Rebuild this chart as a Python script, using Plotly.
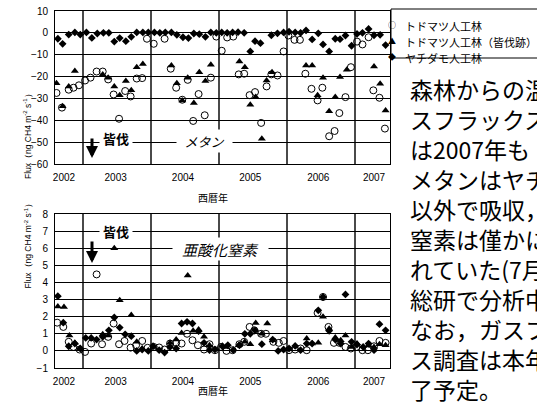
import plotly.graph_objects as go

W, H = 537, 404

# ---- メタン (CH4) flux, ng CH4 m-2 s-1 ----
ch4_todo_x = [2002.61, 2002.69, 2002.79, 2002.86, 2002.94, 2003.03, 2003.11, 2003.20, 2003.29, 2003.37,
              2003.45, 2003.53, 2003.62, 2003.70, 2003.79, 2003.87, 2003.94, 2004.04, 2004.20, 2004.29,
              2004.37, 2004.46, 2004.54, 2004.62, 2004.70, 2004.79, 2004.88, 2004.96, 2005.04, 2005.12,
              2005.21, 2005.29, 2005.37, 2005.45, 2005.53, 2005.62, 2005.70, 2005.77, 2005.86, 2005.95,
              2006.02, 2006.11, 2006.19, 2006.27, 2006.36, 2006.45, 2006.52, 2006.62, 2006.70, 2006.77,
              2006.86, 2006.94, 2007.03, 2007.11, 2007.20, 2007.27, 2007.36, 2007.44]
ch4_todo_y = [-27.5, -34.2, -26, -25.1, -24, -21.8, -20.5, -17.7, -17.7, -21.3,
              -28.2, -39.3, -26.6, -29.1, -20.9, -20.7, -2.7, -5.0, -2.7, -16.4,
              -25.1, -30.6, -21.5, -40.3, -28.0, -37.7, -20.5, -1.7, -8.2, -2.1,
              -1.7, -19.0, -18.7, -28.5, -27.1, -41.2, -24.5, -19.0, -19.5, -8.5,
              -1.2, -3.2, -3.2, -18.7, -25.6, -30.9, -25.1, -47.3, -44.9, -36.7,
              -29.4, -15.7, -4.0, -5.3, -2.0, -26.3, -29.7, -43.8]

ch4_cut_x = [2002.61, 2002.70, 2002.79, 2002.88, 2003.29, 2003.37, 2003.46, 2003.54, 2003.63, 2003.71,
             2003.79, 2003.88, 2004.30, 2004.38, 2004.46, 2004.54, 2004.63, 2004.71, 2004.80, 2004.88,
             2005.30, 2005.38, 2005.46, 2005.54, 2005.63, 2005.70, 2005.78, 2006.28, 2006.37, 2006.45,
             2006.53, 2006.62, 2006.71, 2006.78, 2006.88, 2007.28, 2007.37, 2007.45]
ch4_cut_y = [-23, -33.6, -24.5, -17.5, -19, -20.5, -24.5, -28.6, -22, -26.3,
             -15.7, -14.2, -14.9, -23, -31, -20.5, -32.1, -18, -22, -14.6,
             -13.1, -15.7, -32.9, -29.4, -48.4, -21.8, -18, -14.9, -14.9, -28.6,
             -20.5, -35.9, -29.4, -20.2, -16.9, -15.4, -23.3, -35.5]

ch4_yachi_x = [2002.63, 2002.70, 2002.79, 2002.88, 2002.96, 2003.05, 2003.13, 2003.21, 2003.30, 2003.38,
               2003.46, 2003.54, 2003.63, 2003.71, 2003.79, 2003.88, 2003.96, 2004.05, 2004.13, 2004.21,
               2004.30, 2004.38, 2004.47, 2004.55, 2004.63, 2004.71, 2004.80, 2004.88, 2004.96, 2005.04,
               2005.12, 2005.20, 2005.28, 2005.37, 2005.46, 2005.53, 2005.61, 2005.77, 2005.86, 2005.95,
               2006.03, 2006.12, 2006.20, 2006.28, 2006.37, 2006.46, 2006.53, 2006.62, 2006.71, 2006.78,
               2006.86, 2006.95, 2007.03, 2007.11, 2007.20, 2007.28, 2007.37, 2007.45]
ch4_yachi_y = [-2.7, -5.0, -0.8, 0.2, -0.8, 0.2, -2.3, -0.3, 0, 0,
               -4.0, -2.4, -3.8, -1.8, 0.2, 0.2, 0.2, 0.2, 0, 0.2,
               0.2, -0.9, -2.0, -2.4, -0.3, -0.6, -1.8, 0.2, 0, 0.2,
               0, 0.2, 0.3, 0, -8.5, -3.8, -4.7, -1.1, -0.2, 0.2,
               0.5, 0.2, 0, 1.1, -3.0, -0.2, -5.3, -8.5, -2.7, -2.9,
               -1.2, -5.9, -0.5, 0, 1.8, -1.1, -0.9, -5.6]

# ---- 亜酸化窒素 (N2O) flux ----
n2o_todo_x = [2002.62, 2002.71, 2002.79, 2002.86, 2002.95, 2003.03, 2003.12, 2003.20, 2003.28, 2003.37,
              2003.45, 2003.53, 2003.61, 2003.70, 2003.78, 2003.87, 2003.95, 2004.04, 2004.12, 2004.20,
              2004.28, 2004.37, 2004.45, 2004.53, 2004.61, 2004.69, 2004.78, 2004.86, 2004.94, 2005.03,
              2005.11, 2005.20, 2005.30, 2005.37, 2005.45, 2005.52, 2005.62, 2005.69, 2005.80, 2005.88,
              2005.95, 2006.03, 2006.12, 2006.20, 2006.29, 2006.45, 2006.53, 2006.61, 2006.69, 2006.77,
              2006.86, 2006.94, 2007.02, 2007.11, 2007.19, 2007.28, 2007.36, 2007.45]
n2o_todo_y = [1.65, 1.4, 0.53, 0.23, 0.08, -0.06, 0.43, 4.47, 0.39, 0.82,
              1.6, 0.39, 0.58, 0.19, 0.33, 0.58, 0.18, 0.23, 0.2, 0.08,
              0.43, 0.47, 0.43, 1.0, 0.62, 0.33, 0.08, 0.39, 0.04, 0.23,
              0, 0.04, 0.39, 0.53, 1.4, 1.2, 1.0, 1.0, 0.53, 0.47,
              0.58, 0.04, 0.08, 0.14, 0.04, 2.22, 3.15, 1.4, 0.47, 0.47,
              0.23, 0.14, 0.23, 0.04, 0.04, 0.27, 0.58, 0.47]

n2o_cut_x = [2002.63, 2002.72, 2002.80, 2002.88, 2002.96, 2003.29, 2003.37, 2003.46, 2003.54, 2003.62,
             2003.71, 2003.79, 2003.87, 2004.04, 2004.28, 2004.37, 2004.45, 2004.54, 2004.62, 2004.70,
             2004.78, 2004.86, 2005.10, 2005.29, 2005.38, 2005.46, 2005.54, 2005.63, 2005.71, 2005.79,
             2006.29, 2006.37, 2006.46, 2006.53, 2006.62, 2006.71, 2006.79, 2006.86, 2006.95, 2007.03,
             2007.20, 2007.28, 2007.36, 2007.45]
n2o_cut_y = [2.6, 2.57, 0.9, 0.47, 0.14, 0.97, 0.9, 6.0, 2.96, 7.0,
             2.1, 0.53, 0.14, 0.23, 0.47, 0.66, 1.05, 4.4, 1.17, 1.25,
             0.82, 0.33, 0.23, 0.33, 0.53, 0.39, 1.63, 1.0, 1.6, 0.62,
             0.72, 0.43, 0.47, 2.0, 1.3, 0.78, 0.62, 0.9, 0.23, 0.43,
             0.33, 0.23, 0.39, 0.33]

n2o_yachi_x = [2002.63, 2002.71, 2002.79, 2002.88, 2002.96, 2003.04, 2003.12, 2003.20, 2003.29, 2003.38,
               2003.46, 2003.54, 2003.62, 2003.71, 2003.79, 2003.87, 2003.96, 2004.03, 2004.12, 2004.20,
               2004.28, 2004.37, 2004.45, 2004.53, 2004.61, 2004.70, 2004.78, 2004.86, 2004.94, 2005.05,
               2005.13, 2005.21, 2005.30, 2005.38, 2005.46, 2005.53, 2005.63, 2005.79, 2005.87, 2005.95,
               2006.03, 2006.12, 2006.20, 2006.29, 2006.37, 2006.46, 2006.53, 2006.62, 2006.71, 2006.79,
               2006.86, 2006.95, 2007.03, 2007.12, 2007.20, 2007.28, 2007.36, 2007.45]
n2o_yachi_y = [3.2, 1.65, 0.27, 0.43, 0.14, 0.76, 0.76, 0.66, 0.82, 1.2,
               1.95, 1.36, 0.97, 0.86, 0, 0.08, 0, 0.27, 0.04, -0.1,
               0.23, 0.14, 1.6, 1.7, 1.6, 1.15, 0.47, 0.04, 0.08, 0.27,
               0.33, 0.04, 0.33, 1.0, 1.0, 1.2, 0.39, 0.66, 0, 0.08,
               0.14, 0.29, 0.04, 0.43, 0.43, 2.37, 3.15, 1.17, 0.66, 0.43,
               3.3, 0.53, 0.37, 0.23, 0.43, 0.04, 1.56, 1.2]

# ---- axis labels ----
year_boundaries = [2003, 2004, 2005, 2006, 2007]
year_label_pos = [2002.72, 2003.48, 2004.47, 2005.46, 2006.46, 2007.28]
year_labels = ["2002", "2003", "2004", "2005", "2006", "2007"]
ch4_ticks = [10, 0, -10, -20, -30, -40, -50, -60]
n2o_ticks = [8, 7, 6, 5, 4, 3, 2, 1, 0, -1]
x_title = "西暦年"
y_title = "Flux（ng CH4 m<sup>-2</sup> s<sup>-1</sup>）"
series_names = ["トドマツ人工林", "トドマツ人工林（皆伐跡）", "ヤチダモ人工林"]
legend_marks = ["○", "▲", "◆"]
body_lines = ["森林からの温", "スフラックス", "は2007年も", "メタンはヤチ", "以外で吸収，",
              "窒素は僅かに", "れていた(7月", "総研で分析中", "なお，ガスフ", "ス調査は本年", "了予定。"]

JP = "Noto Sans CJK JP"
LAT = "Liberation Sans, Arial, sans-serif"


def px(x):
    return x / W


def py(y):
    return 1 - y / H


XR = [2002.588, 2007.515]
XDOM = [px(55), px(390)]
TOP = [py(164), py(11)]
BOT = [py(368), py(214)]

fig = go.Figure()

marker_styles = [
    dict(symbol="circle-open", size=7, color="black", line=dict(width=1, color="black")),
    dict(symbol="triangle-up", size=7, color="black"),
    dict(symbol="diamond", size=6, color="black"),
]

for (xs, ys), m, nm in zip([(ch4_todo_x, ch4_todo_y), (ch4_cut_x, ch4_cut_y), (ch4_yachi_x, ch4_yachi_y)],
                           marker_styles, series_names):
    fig.add_trace(go.Scatter(x=xs, y=ys, mode="markers", marker=m, name=nm,
                             xaxis="x", yaxis="y", showlegend=False))

for (xs, ys), m, nm in zip([(n2o_todo_x, n2o_todo_y), (n2o_cut_x, n2o_cut_y), (n2o_yachi_x, n2o_yachi_y)],
                           marker_styles, series_names):
    fig.add_trace(go.Scatter(x=xs, y=ys, mode="markers", marker=m, name=nm,
                             xaxis="x2", yaxis="y2", showlegend=False))

tickfont = dict(family=LAT, size=10, color="black")


def year_axis(anchor):
    return dict(domain=XDOM, range=XR, anchor=anchor, tickmode="array", automargin=False,
                tickvals=year_label_pos, ticktext=year_labels, ticks="", showgrid=False,
                zeroline=False, showline=True, mirror=True, linecolor="black", linewidth=1,
                tickfont=tickfont, ticklabelstandoff=4,
                minor=dict(tickmode="array", tickvals=year_boundaries, showgrid=True,
                           gridcolor="#4a4a4a", gridwidth=1.5, ticks=""))


def month_axis(over, anchor):
    return dict(domain=XDOM, range=XR, anchor=anchor, overlaying=over, side="bottom",
                tickmode="linear", tick0=2003, dtick=1 / 12, ticks="inside", ticklen=3,
                tickcolor="black", tickwidth=1, showticklabels=False, showgrid=False,
                zeroline=False, showline=False, automargin=False)


def value_axis(dom, rng, vals, anchor):
    return dict(domain=dom, range=rng, anchor=anchor, tickmode="array", tickvals=vals,
                ticks="", showgrid=True, gridcolor="black", gridwidth=1, zeroline=False,
                showline=True, mirror=True, linecolor="black", linewidth=1, automargin=False,
                tickfont=tickfont, ticklabelstandoff=4)


fig.update_layout(
    width=W, height=H, margin=dict(l=0, r=0, t=0, b=0, pad=0, autoexpand=False),
    paper_bgcolor="white", plot_bgcolor="white", showlegend=False,
    xaxis=year_axis("y"),
    yaxis=value_axis(TOP, [-60, 10], ch4_ticks, "x"),
    xaxis2=year_axis("y2"),
    yaxis2=value_axis(BOT, [-1, 8], n2o_ticks, "x2"),
    xaxis3=month_axis("x", "y"),
    xaxis4=month_axis("x2", "y2"),
)

ann = []
# axis titles
for yc, yb in [((11 + 164) / 2, 197), ((214 + 368) / 2, 400)]:
    ann.append(dict(x=px(20), y=py(yc), xref="paper", yref="paper", text=y_title, textangle=-90,
                    showarrow=False, font=dict(family=LAT, size=8.5, color="black")))
    ann.append(dict(x=px(213), y=py(yb), xref="paper", yref="paper", text=x_title,
                    showarrow=False, font=dict(family=JP, size=10, color="black")))

# in-plot labels with white background
ann.append(dict(x=px(204), y=py(141), xref="paper", yref="paper", text="メタン", showarrow=False,
                font=dict(family=JP, size=13, color="black", style="italic"),
                bgcolor="white", width=55, height=22, borderpad=0))
ann.append(dict(x=px(220), y=py(249), xref="paper", yref="paper", text="亜酸化窒素", showarrow=False,
                font=dict(family=JP, size=15, color="black", style="italic"),
                bgcolor="white", width=95, height=22, borderpad=0))
for yc in [128, 231]:
    ann.append(dict(x=px(99), y=py(yc), xref="paper", yref="paper", text="<b>皆伐</b>", showarrow=False,
                    font=dict(family=JP, size=13, color="black"),
                    bgcolor="white", width=32, height=18, borderpad=0))
for y0, y1 in [(137, 158), (240, 263)]:
    ann.append(dict(x=px(92), y=py(y1), xref="paper", yref="paper", text="", showarrow=True,
                    ax=0, ay=-(y1 - y0), arrowhead=2, arrowsize=0.8, arrowwidth=3,
                    arrowcolor="black", standoff=0, startstandoff=0))

# legend box
for i, (mk, nm) in enumerate(zip(legend_marks, series_names)):
    yc = [17, 33, 49][i]
    ann.append(dict(x=px(397), y=py(yc), xref="paper", yref="paper", text=mk, showarrow=False,
                    font=dict(family=JP, size=8, color="black"), borderpad=0, height=12))
    ann.append(dict(x=px(404), y=py(yc), xref="paper", yref="paper", text=nm, showarrow=False,
                    xanchor="left", font=dict(family=JP, size=11, color="black"), borderpad=0,
                    height=15))

# explanatory text at right
for i, line in enumerate(body_lines):
    ann.append(dict(x=px(409), y=py(89 + 30 * i), xref="paper", yref="paper", text=line,
                    showarrow=False, xanchor="left", yanchor="middle", borderpad=0, height=28,
                    font=dict(family=JP, size=23, color="black")))

fig.update_layout(annotations=ann,
                  shapes=[dict(type="rect", xref="paper", yref="paper", x0=px(391), x1=px(560),
                               y0=py(58), y1=py(9), line=dict(color="black", width=1))])

fig.write_html("out.html")
